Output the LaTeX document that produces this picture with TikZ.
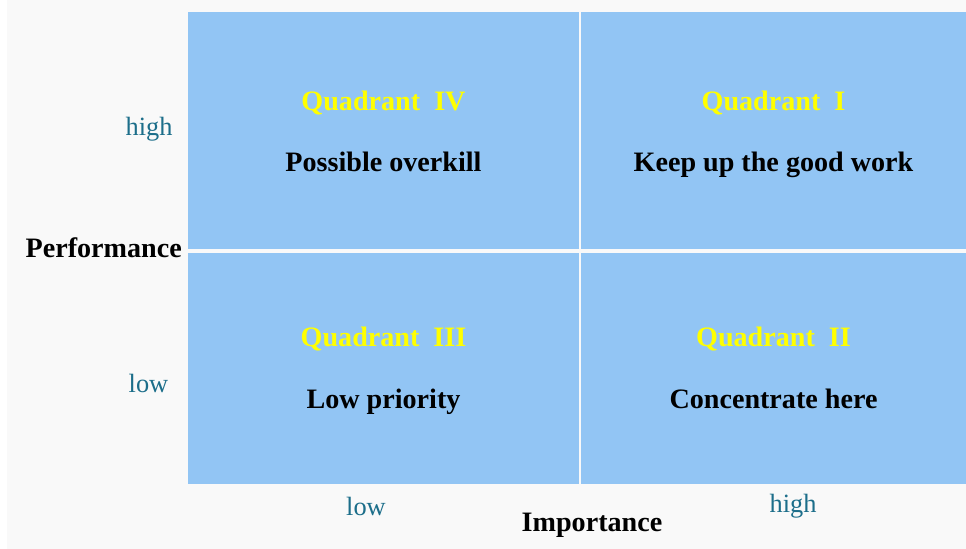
\documentclass[tikz,border=0pt]{standalone}
\usepackage{fontspec}
\setmainfont{Liberation Serif}
\usetikzlibrary{positioning}
\definecolor{cellBlue}{RGB}{146,197,244}
\definecolor{slideGray}{RGB}{249,249,249}
\definecolor{axisTeal}{RGB}{28,110,138}
\definecolor{quadYellow}{RGB}{255,255,0}

\begin{document}
\begin{tikzpicture}[
  every node/.style={align=center},
  cell/.style={fill=cellBlue,inner sep=0pt,minimum height=#1},
  cell/.default=4.74cm,
  quad/.style={anchor=base,font=\fontsize{16}{19}\selectfont\bfseries,text=quadYellow},
  verdict/.style={anchor=base,font=\fontsize{16}{19}\selectfont\bfseries,text=black},
  level/.style={anchor=base,font=\fontsize{15}{18}\selectfont,text=axisTeal},
  axis/.style={anchor=base,font=\fontsize{16}{19}\selectfont\bfseries,text=black}]
\useasboundingbox (0,0) rectangle (19.32,10.98);
\fill[slideGray] (0.14,0) rectangle (19.32,10.98);
% the four cells
\node[cell,minimum width=7.82cm] (q4) at (7.67,8.37) {};
\node[cell,minimum width=7.70cm] (q1) at (15.47,8.37) {};
\node[cell=4.62cm,minimum width=7.82cm] (q3) at (7.67,3.61) {};
\node[cell=4.62cm,minimum width=7.70cm] (q2) at (15.47,3.61) {};
% titles and verdicts
\node[quad] (t4) at ([yshift=0.39cm]q4.center) {Quadrant\ \ IV};
\node[verdict] (v4) at ([yshift=-0.83cm]q4.center) {Possible overkill};
\node[quad] (t1) at ([yshift=0.39cm]q1.center) {Quadrant\ \ I};
\node[verdict] (v1) at ([yshift=-0.83cm]q1.center) {Keep up the good work};
\node[quad] (t3) at ([yshift=0.43cm]q3.center) {Quadrant\ \ III};
\node[verdict] (v3) at ([yshift=-0.81cm]q3.center) {Low priority};
\node[quad] (t2) at ([yshift=0.43cm]q2.center) {Quadrant\ \ II};
\node[verdict] (v2) at ([yshift=-0.81cm]q2.center) {Concentrate here};
% axes
\node[level] (phigh) at (2.98,8.26) {high};
\node[level] (plow) at (2.97,3.12) {low};
\node[axis,anchor=base east] (perf) at (3.76,5.82) {Performance};
\node[level] (ilow) at (7.32,0.66) {low};
\node[level] (ihigh) at (15.86,0.72) {high};
\node[axis] (imp) at (11.84,0.34) {Importance};
\end{tikzpicture}
\end{document}
